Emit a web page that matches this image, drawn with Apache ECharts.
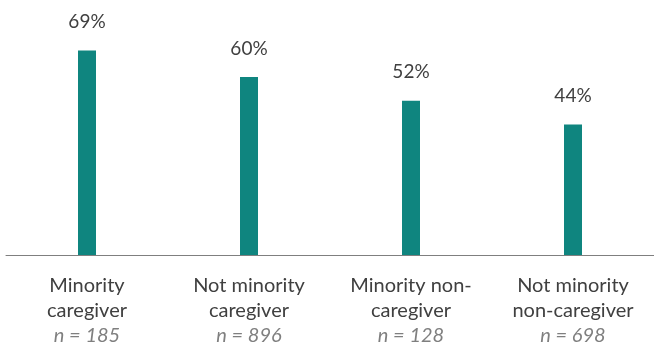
<!DOCTYPE html>
<html>
<head>
<meta charset="utf-8">
<script src="https://cdn.jsdelivr.net/npm/echarts@6/dist/echarts.min.js"></script>
<style>
  html, body { margin: 0; padding: 0; background: #ffffff; }
  #chart { width: 654px; height: 347px; }
</style>
</head>
<body>
<div id="chart"></div>
<script>
// Group names (two lines each) and sample sizes
const groupLine1 = ['Minority', 'Not minority', 'Minority non-', 'Not minority'];
const groupLine2 = ['caregiver', 'caregiver', 'caregiver', 'non-caregiver'];
const sampleSizes = [185, 896, 128, 698];
// Share of respondents, in percent
const shares = [69, 60, 52, 44];

const categories = groupLine1.map((_, i) => String(i));

const chart = echarts.init(document.getElementById('chart'));
chart.setOption({
  animation: false,
  grid: { left: 6, right: -6, top: 0, bottom: 92, containLabel: false },
  xAxis: {
    type: 'category',
    data: categories,
    axisLine: { lineStyle: { color: '#7f7f7f', width: 1 } },
    axisTick: { show: false },
    axisLabel: {
      margin: 18,
      interval: 0,
      formatter: (v) => {
        const i = Number(v);
        return '{a|' + groupLine1[i] + '}\n{a|' + groupLine2[i] + '}\n{n|n = ' + sampleSizes[i] + '}';
      },
      rich: {
        a: { fontFamily: 'Lato', fontSize: 20, color: '#404040', lineHeight: 25 },
        n: { fontFamily: 'Lato', fontSize: 20, color: '#7f7f7f', fontStyle: 'italic', lineHeight: 25 }
      }
    }
  },
  yAxis: {
    type: 'value',
    min: 0,
    max: 86,
    show: false,
    splitLine: { show: false }
  },
  series: [{
    type: 'bar',
    data: shares,
    barWidth: 18,
    itemStyle: { color: '#0f857f' },
    label: {
      show: true,
      position: 'top',
      distance: 19,
      formatter: (p) => p.value + '%',
      fontFamily: 'Lato',
      fontSize: 19,
      color: '#404040'
    }
  }]
});
</script>
</body>
</html>
